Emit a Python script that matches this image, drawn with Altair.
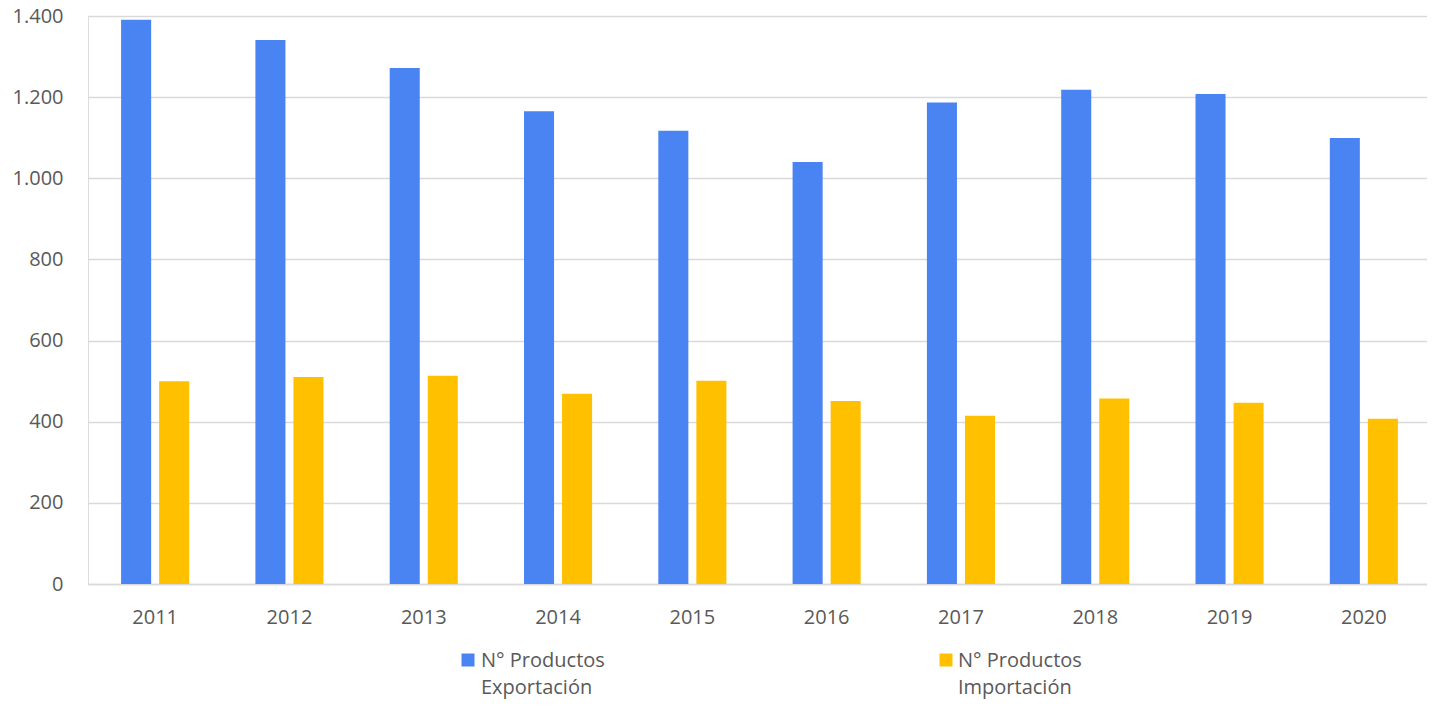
import altair as alt
import pandas as pd

years = ["2011", "2012", "2013", "2014", "2015", "2016", "2017", "2018", "2019", "2020"]
exportacion = [1391, 1341, 1272, 1165, 1117, 1040, 1187, 1218, 1208, 1099]
importacion = [500, 510, 513, 469, 501, 451, 415, 457, 447, 407]
series = ["N° Productos Exportación", "N° Productos Importación"]
legend_lines = [["N° Productos", "Exportación"], ["N° Productos", "Importación"]]
colors = ["#4A83F2", "#FFC000"]
y_ticks = [0, 200, 400, 600, 800, 1000, 1200, 1400]

rows = []
for i, y in enumerate(years):
    rows.append({"year": y, "serie": series[0], "value": exportacion[i]})
    rows.append({"year": y, "serie": series[1], "value": importacion[i]})
df = pd.DataFrame(rows)

FONT = "Open Sans"
TXT = "#595959"

bars = alt.Chart(df).mark_bar().encode(
    x=alt.X("year:N", sort=years, title=None,
            scale=alt.Scale(paddingInner=0.493, paddingOuter=0.2465, range=[0, 1343]),
            axis=alt.Axis(labelAngle=0, ticks=False, domain=True, domainColor="#d9d9d9",
                          domainWidth=1.5, labelPadding=23, labelFontSize=20,
                          labelColor=TXT, labelFont=FONT)),
    xOffset=alt.XOffset("serie:N", sort=series, scale=alt.Scale(paddingInner=0.21)),
    y=alt.Y("value:Q", title=None,
            scale=alt.Scale(domain=[0, 1400], nice=False),
            axis=alt.Axis(values=y_ticks, format=",d", ticks=False, domain=False,
                          gridColor="#d9d9d9", gridWidth=1.5, labelPadding=25,
                          labelFontSize=20, labelColor=TXT, labelFont=FONT)),
    color=alt.Color("serie:N", sort=series,
                    scale=alt.Scale(domain=series, range=colors), legend=None),
)

# manual legend (two-line labels, symbol aligned with the first line)
legend_pos = [(380, 393), (858, 870)]
layers = [bars]
for i, s in enumerate(series):
    ldf = pd.DataFrame({"serie": [s]})
    sx, tx = legend_pos[i]
    sq = alt.Chart(ldf).mark_square(size=169, opacity=1).encode(
        x=alt.value(sx), y=alt.value(644), color=alt.value(colors[i]))
    tx_mark = alt.Chart(ldf).mark_text(
        align="left", baseline="alphabetic", fontSize=20, font=FONT, color=TXT,
        lineHeight=27).encode(
        x=alt.value(tx), y=alt.value(651), text=alt.value(legend_lines[i]))
    layers += [sq, tx_mark]

chart = alt.layer(*layers).properties(
    width=1339,
    height=568,
    autosize=alt.AutoSizeParams(type="none"),
    padding={"left": 80, "top": 8, "right": 0, "bottom": 115},
).configure_view(
    stroke=None
).configure(
    locale={"number": {"decimal": ",", "thousands": ".", "grouping": [3], "currency": ["", " €"]}}
)

chart.save("out.html", embed_options={"renderer": "svg", "actions": False})
